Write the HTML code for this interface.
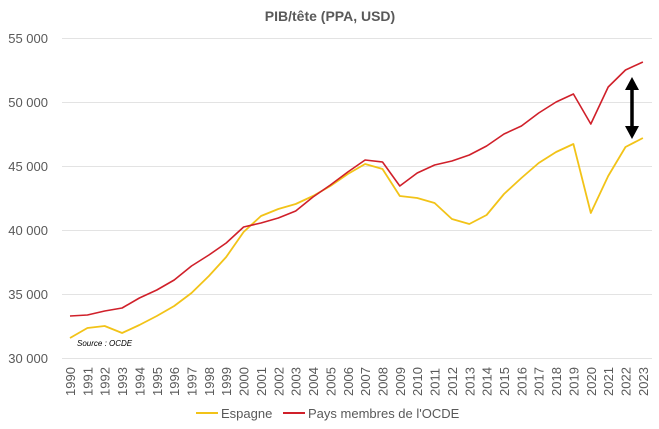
<!DOCTYPE html>
<html><head><meta charset="utf-8"><style>
html,body{margin:0;padding:0;background:#fff;}
svg{display:block;font-family:"Liberation Sans",Arial,sans-serif;}
</style></head><body>
<svg width="659" height="429" viewBox="0 0 659 429" xmlns="http://www.w3.org/2000/svg">
<rect width="659" height="429" fill="#fff"/>
<text x="330" y="21" text-anchor="middle" font-size="14" font-weight="bold" fill="#595959">PIB/tête (PPA, USD)</text>
<g stroke="#e3e3e3" stroke-width="1">
<line x1="62" x2="652" y1="38.5" y2="38.5"/>
<line x1="62" x2="652" y1="102.5" y2="102.5"/>
<line x1="62" x2="652" y1="166.5" y2="166.5"/>
<line x1="62" x2="652" y1="230.5" y2="230.5"/>
<line x1="62" x2="652" y1="294.5" y2="294.5"/>
<line x1="62" x2="652" y1="358.5" y2="358.5"/>
</g>
<g font-size="13" fill="#595959" text-anchor="end">
<text x="48" y="43">55 000</text>
<text x="48" y="107">50 000</text>
<text x="48" y="171">45 000</text>
<text x="48" y="235">40 000</text>
<text x="48" y="299">35 000</text>
<text x="48" y="363">30 000</text>
</g>
<g font-size="13" fill="#595959" id="xl"></g>
<text x="77" y="346" font-size="8" font-style="italic" fill="#000">Source : OCDE</text>
<polyline id="es" fill="none" stroke="#f2c318" stroke-width="1.8" stroke-linejoin="round"/>
<polyline id="oe" fill="none" stroke="#d0202a" stroke-width="1.6" stroke-linejoin="round"/>
<g fill="#000">
<line x1="632" y1="86" x2="632" y2="130" stroke="#000" stroke-width="3.5"/>
<polygon points="625,90 639,90 632,77"/>
<polygon points="625,126 639,126 632,139"/>
</g>
<line x1="196" x2="218" y1="413" y2="413" stroke="#f2c318" stroke-width="2"/>
<text x="221" y="418" font-size="13" fill="#595959">Espagne</text>
<line x1="283" x2="305" y1="413" y2="413" stroke="#d0202a" stroke-width="2"/>
<text x="308" y="418" font-size="13" fill="#595959">Pays membres de l'OCDE</text>
</svg>
<script>
var es=[338,328,326,333,325,316,306,293,276,257,232,216,209,204,196,186,174,164,169,196,198,203,219,224,215,194,178,163,152,144,213,176,147,138];
var oe=[316,315,311,308,298,290,280,266,255,243,227,223,218,211,197,185,172,160,162,186,173,165,161,155,146,134,126,113,102,94,124,87,70,62];
function x(i){return 70+i*17.36;}
document.getElementById('es').setAttribute('points',es.map((v,i)=>x(i).toFixed(1)+','+v).join(' '));
document.getElementById('oe').setAttribute('points',oe.map((v,i)=>x(i).toFixed(1)+','+v).join(' '));
var g=document.getElementById('xl'),h='';
for(var i=0;i<34;i++){var xx=x(i)+5;h+='<text transform="translate('+xx.toFixed(1)+',396) rotate(-90)">'+(1990+i)+'</text>';}
g.innerHTML=h;
</script>
</body></html>
